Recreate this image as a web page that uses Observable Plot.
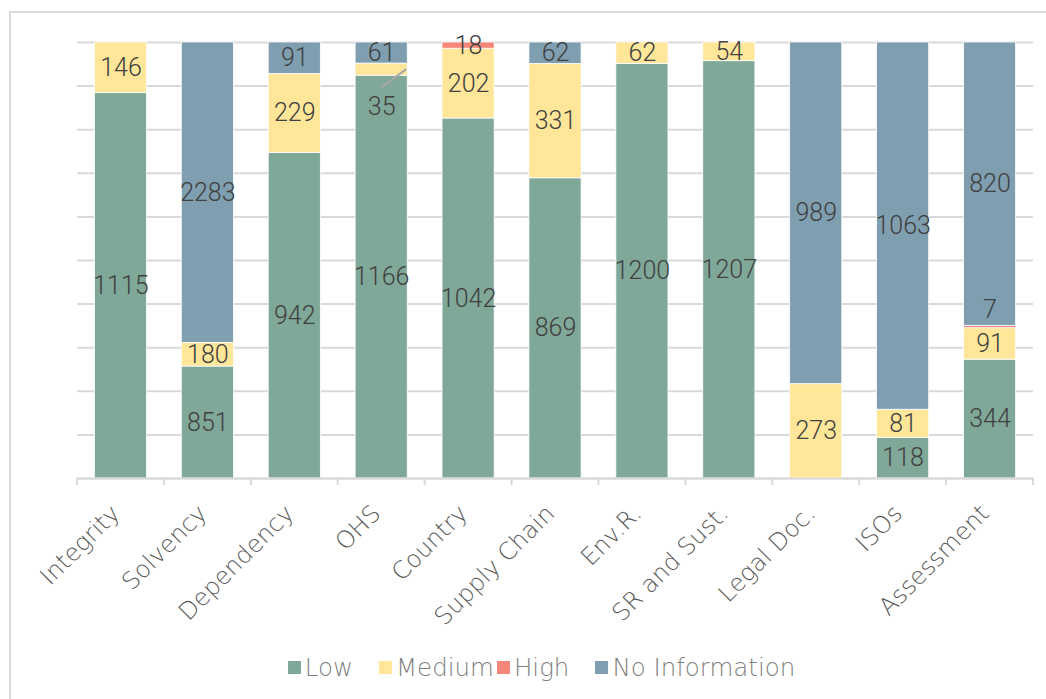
<!DOCTYPE html>
<html>
<head>
<meta charset="utf-8">
<script src="https://cdn.jsdelivr.net/npm/d3@7"></script>
<script src="https://cdn.jsdelivr.net/npm/@observablehq/plot@0.6"></script>
<style>
  html, body { margin: 0; padding: 0; background: #fff; }
  #wrap { position: relative; width: 1046px; height: 699px; overflow: hidden; }
  #frame { position: absolute; left: 9px; top: 11px; width: 1100px; height: 800px;
           border-top: 2px solid #d9d9d9; border-left: 2px solid #d9d9d9; pointer-events: none; z-index: 2; }
  #legend { position: absolute; left: 0; top: 645px; width: 1046px; height: 44px;
            display: flex; justify-content: center; align-items: center; padding-left: 40px; box-sizing: border-box;
            font-family: "DejaVu Sans", sans-serif; font-weight: 200; font-size: 24.5px; color: #7f7f7f; }
  #legend .item { display: flex; align-items: center; margin-right: 3px; }
  #legend .sw { width: 13px; height: 13px; margin-right: 4px; }
  #legend .gap { margin-right: 26px; }
</style>
</head>
<body>
<div id="wrap">
  <div id="chart"></div>
  <div id="frame"></div>
  <div id="legend"></div>
</div>
<script>
const categories = ["Integrity","Solvency","Dependency","OHS","Country","Supply Chain","Env.R.","SR and Sust.","Legal Doc.","ISOs","Assessment"];
const levels = ["Low","Medium","High","No Information"];
const lowValues    = [1115, 851, 942, 1166, 1042, 869, 1200, 1207, 0, 118, 344];
const mediumValues = [146, 180, 229, 35, 202, 331, 62, 54, 273, 81, 91];
const highValues   = [0, 0, 0, 0, 18, 0, 0, 0, 0, 0, 7];
const noInfoValues = [0, 2283, 91, 61, 0, 62, 0, 0, 989, 1063, 820];
const levelColors  = ["#80a898", "#ffe699", "#f4877a", "#7f9fb0"];

const series = [lowValues, mediumValues, highValues, noInfoValues];
const data = [];
categories.forEach((c, i) => {
  levels.forEach((l, j) => data.push({category: c, level: l, value: series[j][i]}));
});

const isOHSMed = d => d.category === "OHS" && d.level === "Medium";
const isAssHigh = d => d.category === "Assessment" && d.level === "High";

const stackOpts = (extra) => Plot.stackY({
  x: "category", y: "value", z: "level", order: levels, offset: "normalize", ...extra
});

const labelStyle = {fontFamily: "Roboto", fontSize: 25, fontWeight: 300, fill: "#404040"};

// Leader line for the OHS Medium label, plus category tick marks on the x axis
function extras(index, scales, values, dimensions) {
  const x = scales.x, y = scales.y;
  const bw = x.bandwidth ? x.bandwidth() : 52;
  const step = x.step ? x.step() : 87;
  const g = d3.create("svg:g");
  const y0 = dimensions.height - dimensions.marginBottom;
  const edges = categories.map(c => x(c) - (step - bw) / 2);
  edges.push(x(categories[categories.length - 1]) + bw + (step - bw) / 2);
  edges.forEach(px => g.append("line")
    .attr("x1", px).attr("x2", px).attr("y1", y0).attr("y2", y0 + 7)
    .attr("stroke", "#d9d9d9").attr("stroke-width", 2));
  const i = categories.indexOf("OHS");
  const tot = lowValues[i] + mediumValues[i] + highValues[i] + noInfoValues[i];
  const mid = (lowValues[i] + mediumValues[i] / 2) / tot;
  const cx = x("OHS") + bw / 2;
  g.append("line")
    .attr("x1", cx + bw / 2 - 1).attr("y1", y(mid))
    .attr("x2", cx).attr("y2", y(mid) + 18.5)
    .attr("stroke", "#a6a6a6").attr("stroke-width", 2);
  return g.node();
}

const chart = Plot.plot({
  width: 1046,
  height: 645,
  marginLeft: 77,
  marginRight: 13,
  marginTop: 42,
  marginBottom: 167,
  style: {fontFamily: "DejaVu Sans, sans-serif", fontSize: "24px", color: "#595959", background: "transparent"},
  x: {domain: categories, paddingInner: 0.4, paddingOuter: 0.2, round: false, axis: null},
  y: {domain: [0, 1], axis: null},
  color: {domain: levels, range: levelColors},
  marks: [
    Plot.gridY({ticks: d3.range(0, 1.0001, 0.1), stroke: "#d9d9d9", strokeOpacity: 1, strokeWidth: 2}),
    Plot.barY(data, stackOpts({fill: "level", stroke: "white", strokeWidth: 0.8})),
    Plot.ruleY([0], {stroke: "#d9d9d9", strokeWidth: 2}),
    Plot.text(data, stackOpts({
      text: d => (d.value > 0 && !isOHSMed(d) && !isAssHigh(d)) ? String(d.value) : "",
      ...labelStyle
    })),
    Plot.text(data, stackOpts({
      text: d => isOHSMed(d) ? String(d.value) : "", dy: 37, ...labelStyle
    })),
    Plot.text(data, stackOpts({
      text: d => isAssHigh(d) ? String(d.value) : "", dy: -17, ...labelStyle
    })),
    // category axis labels
    Plot.text(categories, {
      x: d => d, y: 0, text: d => d, rotate: -45, textAnchor: "end", lineAnchor: "middle",
      dx: -5, dy: 31, fontFamily: "DejaVu Sans", fontWeight: 200, fontSize: 24, fill: "#595959"
    }),
    extras
  ]
});
document.getElementById("chart").appendChild(chart);

const legend = document.getElementById("legend");
levels.forEach((l, j) => {
  const item = document.createElement("div");
  item.className = "item" + (j === 0 ? " gap" : "") + (j === 2 ? " gap" : "");
  const sw = document.createElement("div");
  sw.className = "sw";
  sw.style.background = levelColors[j];
  const t = document.createElement("span");
  t.textContent = l;
  item.appendChild(sw);
  item.appendChild(t);
  legend.appendChild(item);
});
</script>
</body>
</html>
